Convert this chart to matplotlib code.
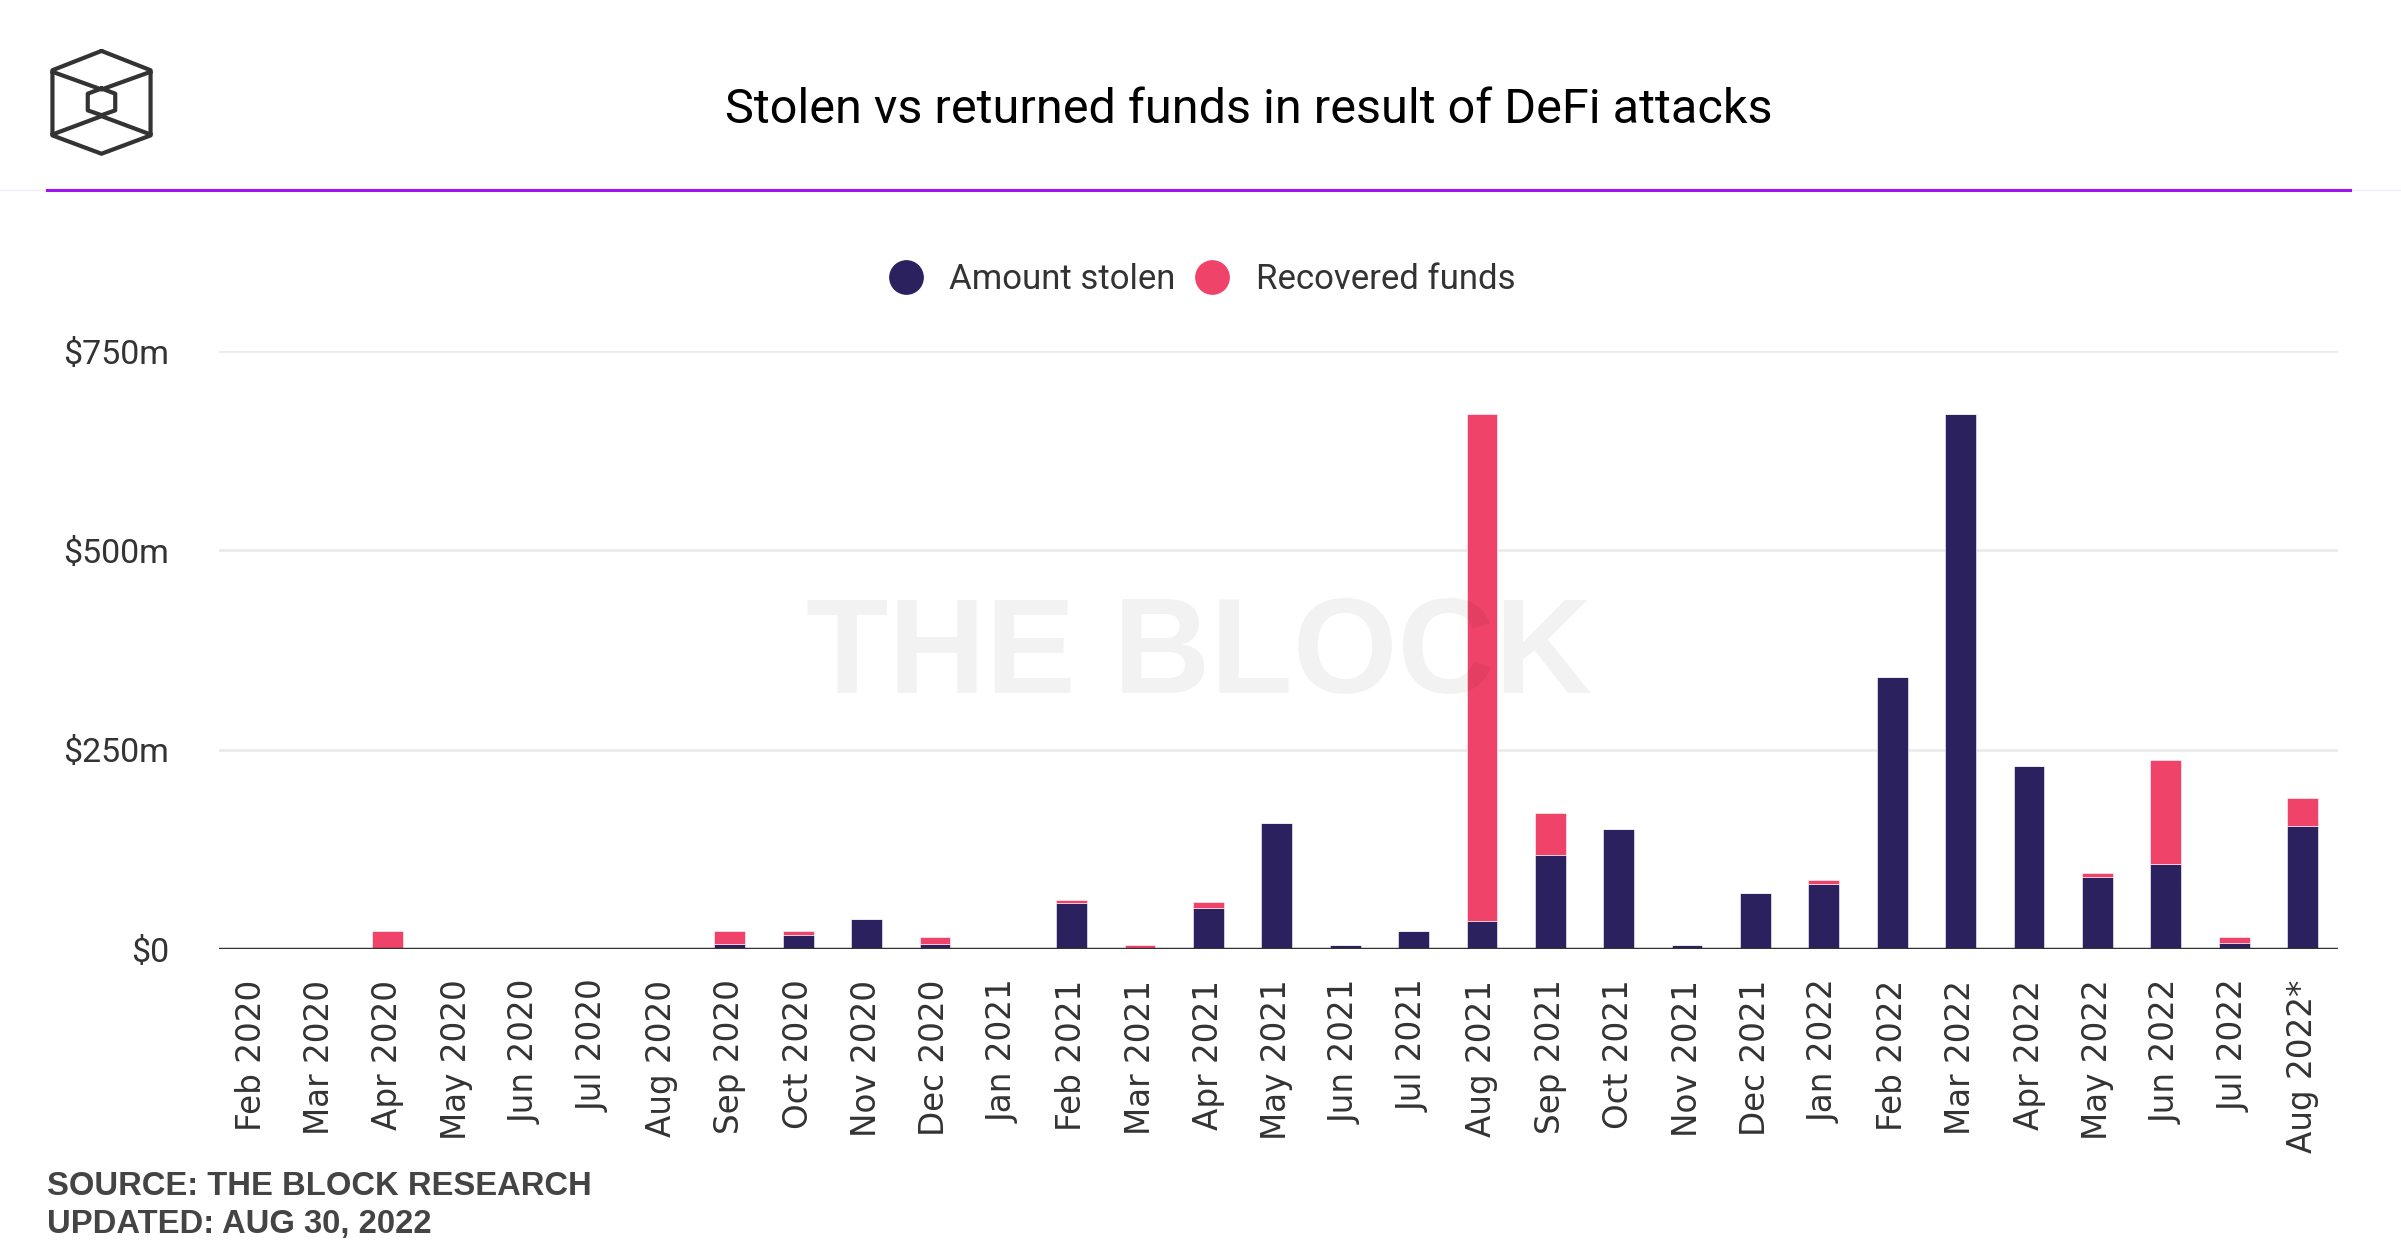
import numpy as np
import matplotlib
matplotlib.use('Agg')
import matplotlib.pyplot as plt
from matplotlib.lines import Line2D

# 月份
months = ['Feb 2020', 'Mar 2020', 'Apr 2020', 'May 2020', 'Jun 2020', 'Jul 2020', 'Aug 2020',
          'Sep 2020', 'Oct 2020', 'Nov 2020', 'Dec 2020', 'Jan 2021', 'Feb 2021', 'Mar 2021',
          'Apr 2021', 'May 2021', 'Jun 2021', 'Jul 2021', 'Aug 2021', 'Sep 2021', 'Oct 2021',
          'Nov 2021', 'Dec 2021', 'Jan 2022', 'Feb 2022', 'Mar 2022', 'Apr 2022', 'May 2022',
          'Jun 2022', 'Jul 2022', 'Aug 2022*']

# $m
amount_stolen = [0, 0, 0, 0, 0, 0, 0,
                 6, 18, 38, 6, 0, 58, 0,
                 51, 158, 5, 23, 35, 118, 150,
                 5, 70, 82, 341, 671, 230, 90,
                 107, 7, 154]
recovered_funds = [0, 0, 23, 0, 0, 0, 0,
                   17, 4, 0, 9, 0, 4, 5,
                   8, 0, 0, 0, 636, 52, 0,
                   0, 0, 5, 0, 0, 0, 5,
                   130, 8, 36]

y_ticks = [0, 250, 500, 750]
y_labels = ['$0', '$250m', '$500m', '$750m']

navy = '#2b215e'
pink = '#f04369'
text_col = '#333333'

fig = plt.figure(figsize=(24.01, 12.6), dpi=100)
ax = fig.add_axes([0.0912, 0.2468, 0.8826, 0.4746])

x = np.arange(len(months))
ax.bar(x, amount_stolen, width=0.45, color=navy, edgecolor='white', linewidth=0.4, zorder=3)
ax.bar(x, recovered_funds, width=0.45, bottom=amount_stolen, color=pink,
       edgecolor='white', linewidth=0.4, zorder=3)

ax.set_xlim(-0.47, len(months) - 0.48)
ax.set_ylim(0, 750)
ax.set_yticks(y_ticks)
ax.set_yticklabels(y_labels, fontsize=24.5, color=text_col, family='Roboto')
ax.set_xticks(x)
ax.set_xticklabels(months, rotation=90, fontsize=23.5, color=text_col, family='DejaVu Sans')
ax.tick_params(axis='y', length=0, pad=36)
ax.tick_params(axis='x', length=0, pad=22)
for lbl in ax.get_yticklabels():
    lbl.set_va('center_baseline')
for s in ax.spines.values():
    s.set_visible(False)
ax.grid(axis='y', color='#ebebeb', linewidth=2, zorder=0)
ax.axhline(0, color='#333333', linewidth=2.5, zorder=4)

# 标题
fig.text(0.520, 0.913, 'Stolen vs returned funds in result of DeFi attacks',
         ha='center', va='center', fontsize=35, family='Roboto', color='black')

# 紫色分割线
fig.add_artist(Line2D([0, 1], [0.8495, 0.8495], color='#f3ecf7', linewidth=1))
fig.add_artist(Line2D([0.0196, 0.9788], [0.8495, 0.8495], color='#a012f0', linewidth=2.2))

# 图例
handles = [Line2D([], [], marker='o', linestyle='', markersize=24, color=navy),
           Line2D([], [], marker='o', linestyle='', markersize=24, color=pink)]
leg = fig.legend(handles, ['Amount stolen', 'Recovered funds'], loc='center',
                 bbox_to_anchor=(0.5006, 0.778), ncol=2, frameon=False,
                 prop={'family': 'Roboto', 'size': 25}, handlelength=1.0,
                 handletextpad=0.75, columnspacing=0.55)
for t in leg.get_texts():
    t.set_color(text_col)

# 水印
fig.text(0.4994, 0.478, 'THE BLOCK', ha='center', va='center', fontsize=97,
         fontweight='bold', family='Liberation Sans', color='black', alpha=0.05)

# logo
lax = fig.add_axes([50 / 2401, 1 - 156 / 1260, 103 / 2401, 107 / 1260])
lax.set_xlim(95, 305)
lax.set_ylim(472, 139)
lax.axis('off')
lw = 3.0
lc = '#333333'
lax.plot([200, 300, 300, 200, 100, 100, 200], [145, 205, 408, 465, 408, 205, 145],
         color=lc, linewidth=lw, solid_joinstyle='round')
lax.plot([100, 200, 300], [210, 265, 210], color=lc, linewidth=lw)
lax.plot([100, 200, 300], [405, 348, 405], color=lc, linewidth=lw)
lax.plot([200, 228, 228, 200, 172, 172, 200], [262, 278, 330, 345, 330, 278, 262],
         color=lc, linewidth=lw, solid_joinstyle='round')

# 来源
fig.text(0.0196, 0.058, 'SOURCE: THE BLOCK RESEARCH', ha='left', va='center',
         fontsize=23.6, fontweight='bold', family='Liberation Sans', color='#444444')
fig.text(0.0196, 0.0278, 'UPDATED: AUG 30, 2022', ha='left', va='center',
         fontsize=23.6, fontweight='bold', family='Liberation Sans', color='#444444')

plt.savefig('out.png', dpi=100)
